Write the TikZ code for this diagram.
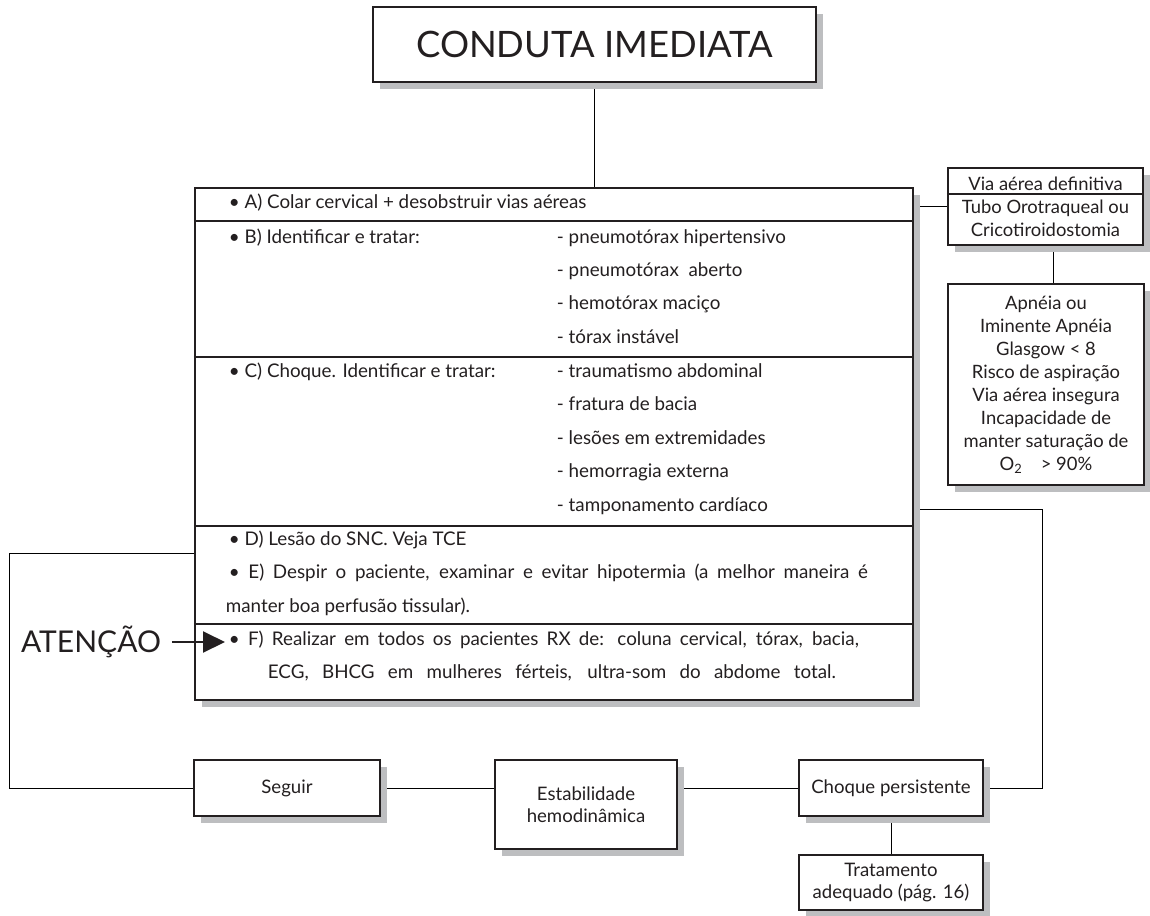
\documentclass[tikz,border=0pt]{standalone}
\usepackage{fontspec}
\setmainfont{Lato}
\usetikzlibrary{positioning,shadows,arrows.meta}
\pgfdeclarelayer{back}
\pgfsetlayers{back,main}
\definecolor{ink}{HTML}{231F20}
\definecolor{shade}{HTML}{BDBEC0}
\newcommand{\txtsize}{\fontsize{18.8}{21}\selectfont}
\newcommand{\boxsize}{\fontsize{18.6}{22}\selectfont}
\newcommand{\sidesize}{\fontsize{18.4}{23}\selectfont}

\begin{document}
\begin{tikzpicture}[x=1pt, y=-1pt, line width=1.8pt, color=ink,
    box/.style={rectangle, draw=ink, fill=white, line width=2.3pt, align=center, inner sep=0pt, font=\boxsize,
      drop shadow={shadow xshift=7pt, shadow yshift=-7pt, fill=shade, opacity=1}},
    txt/.style={anchor=west, inner sep=0pt, text height=1.6ex, text depth=.4ex, font=\txtsize},
    rule/.style={line width=1.6pt}]
	\useasboundingbox (0,0) rectangle (1150,915);
	% boxes
	\node[box, minimum width=443pt, minimum height=75pt, font=\fontsize{36.4}{40}\selectfont] (title) at (594.5,44.5) {CONDUTA IMEDIATA};
	\node[box, minimum width=718pt, minimum height=512pt] (main) at (554,444) {};
	\node[box, minimum width=195pt, minimum height=77pt, font=\sidesize] (via) at (1045.5,206.5) {Via aérea definitiva\\Tubo Orotraqueal ou\\Cricotiroidostomia};
	\node[box, minimum width=196pt, minimum height=201pt, font=\sidesize] (apnea) at (1046,384.5) {Apnéia ou\\Iminente Apnéia\\Glasgow < 8\\Risco de aspiração\\Via aérea insegura\\Incapacidade de\\manter saturação de\\O\textsubscript{2}\quad > 90\%};
	\node[box, minimum width=186pt, minimum height=56pt] (seguir) at (287,788) {Seguir};
	\node[box, minimum width=182pt, minimum height=89pt] (estab) at (586,804.5) {Estabilidade\\hemodinâmica};
	\node[box, minimum width=184pt, minimum height=56pt] (choque) at (891,788) {Choque persistente};
	\node[box, minimum width=184pt, minimum height=55pt, below=37pt of choque] (trat) {Tratamento\\adequado (pág. 16)};
	\draw[rule] (via.west |- 0,194) -- (via.east |- 0,194);
	% rows of the main box
	\foreach \y in {221,357,526,624}
		\draw[rule] (main.west |- 0,\y) -- (main.east |- 0,\y);
	\node[txt] (rowa) at (228,205) {• A) Colar cervical + desobstruir vias aéreas};
	\node[txt] (rowb) at (228,240) {• B) Identificar e tratar:};
	\foreach \t [count=\i] in {pneumotórax hipertensivo, pneumotórax\ \ aberto, hemotórax maciço, tórax instável}
		\node[txt] (b\i) at (556,{240+33.4*(\i-1)}) {- \t};
	\node[txt] (rowc) at (228,374) {• C) Choque. Identificar e tratar:};
	\foreach \t [count=\i] in {traumatismo abdominal, fratura de bacia, lesões em extremidades, hemorragia externa, tamponamento cardíaco}
		\node[txt] (c\i) at (556,{374+33.5*(\i-1)}) {- \t};
	\node[txt] (rowd) at (228,542) {• D) Lesão do SNC. Veja TCE};
	\node[txt] (rowe) at (228,575) {\makebox[639pt][s]{• E) Despir o paciente, examinar e evitar hipotermia (a melhor maneira é}};
	\node[txt] (rowe2) at (225,609) {manter boa perfusão tissular).};
	\node[txt] (rowf) at (228,642) {\makebox[630pt][s]{• F) Realizar em todos os pacientes RX de: coluna cervical, tórax, bacia,}};
	\node[txt] (rowf2) at (267,675) {\makebox[568pt][s]{ECG, BHCG em mulheres férteis, ultra-som do abdome total.}};
	% attention arrow
	\node[font=\fontsize{30}{34}\selectfont, inner sep=0pt] (atencao) at (91,642) {ATENÇÃO};
	\coordinate (ftip) at (225,642);
	\draw[-{Triangle[length=22pt,width=21pt]}, line width=2pt] ([xshift=10pt]atencao.east) -- (ftip);
	% connectors
	\begin{pgfonlayer}{back}
		\draw (title.south) -- (title.south |- main.north);
		\draw (main.east |- via.west) -- (via.west);
		\draw ([xshift=8pt]via.south) -- ([xshift=8pt]via.south |- apnea.north);
		\coordinate (rloop) at (1042,509);
		\draw (main.east |- rloop) -- (rloop) |- (choque.east);
		\coordinate (lloop) at (9,553);
		\draw (main.west |- lloop) -- (lloop) |- (seguir.west);
		\draw (seguir.east) -- (seguir.east -| estab.west);
		\draw (choque.west -| estab.east) -- (choque.west);
		\draw (choque.south) -- (trat.north);
	\end{pgfonlayer}
\end{tikzpicture}
\end{document}
